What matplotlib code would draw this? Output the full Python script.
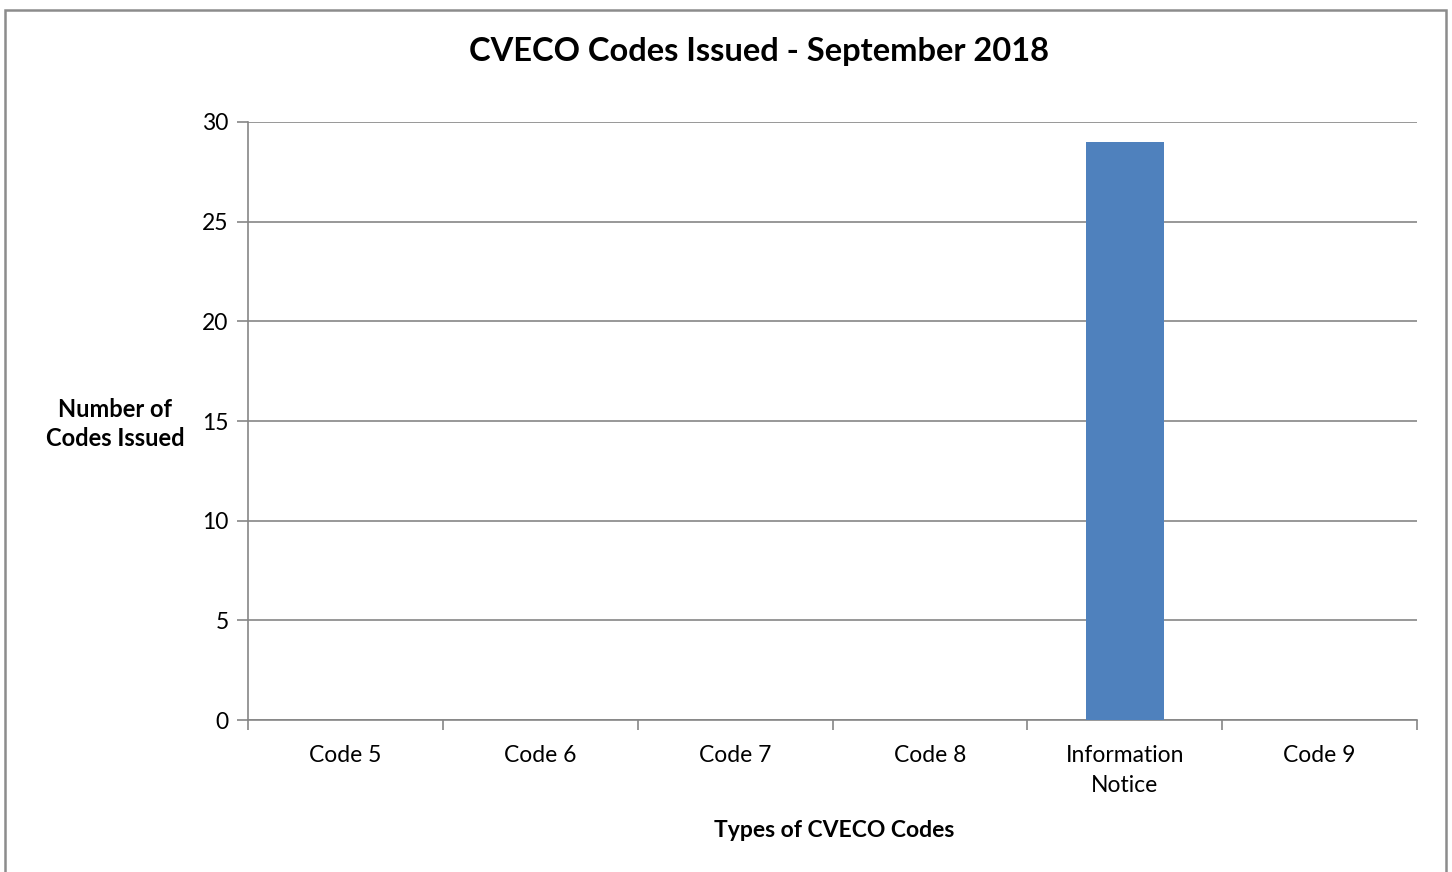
import matplotlib
matplotlib.use("Agg")
import matplotlib.pyplot as plt
from matplotlib.patches import Rectangle

# ── Data ────────────────────────────────────────────────────────────
categories = ["Code 5", "Code 6", "Code 7", "Code 8", "Information\nNotice", "Code 9"]
codes_issued = [0, 0, 0, 0, 29, 0]
y_ticks = [0, 5, 10, 15, 20, 25, 30]

BAR_COLOR = "#4f81bd"
GRID_COLOR = "#868686"

plt.rcParams["font.family"] = ["Lato", "DejaVu Sans"]

fig = plt.figure(figsize=(14.52, 8.72), dpi=100)
ax = fig.add_axes([0.1708, 0.1743, 0.9759 - 0.1708, 0.8601 - 0.1743])

# outer chart border (bottom edge runs off the image)
fig.patches.append(Rectangle((5 / 1452, -10 / 872), 1441 / 1452, 872 / 872,
                             transform=fig.transFigure, fill=False,
                             edgecolor="#8c8c8c", linewidth=1.8))

x = list(range(len(categories)))
ax.bar(x, codes_issued, width=0.4, color=BAR_COLOR, zorder=3)

ax.set_xlim(-0.5, len(categories) - 0.5)
ax.set_ylim(0, 30)
ax.set_yticks(y_ticks)
ax.set_yticklabels([str(v) for v in y_ticks], fontsize=16.5)
ax.yaxis.grid(True, color=GRID_COLOR, linewidth=1.2, zorder=0)

# category labels centred, tick marks at boundaries
ax.set_xticks(x)
ax.set_xticklabels(categories, fontsize=16.5, linespacing=1.55)
ax.tick_params(axis="x", length=0, pad=18)
ax.set_xticks([i - 0.5 for i in range(len(categories) + 1)], minor=True)
ax.tick_params(axis="x", which="minor", length=7, width=1.2, color=GRID_COLOR)
ax.tick_params(axis="y", length=8, width=1.2, color=GRID_COLOR, pad=6)

for side in ["top", "right"]:
    ax.spines[side].set_visible(False)
for side in ["left", "bottom"]:
    ax.spines[side].set_color(GRID_COLOR)
    ax.spines[side].set_linewidth(1.2)

fig.text(759 / 1452, 1 - 52 / 872, "CVECO Codes Issued - September 2018",
         fontsize=23.5, fontweight="bold", ha="center", va="center")
fig.text(834 / 1452, 1 - 830 / 872, "Types of CVECO Codes", fontsize=16.5,
         fontweight="bold", ha="center", va="center")
fig.text(115 / 1452, 1 - 424 / 872, "Number of\nCodes Issued", fontsize=17,
         fontweight="bold", ha="center", va="center", linespacing=1.3)

fig.savefig("out.png", dpi=100)
